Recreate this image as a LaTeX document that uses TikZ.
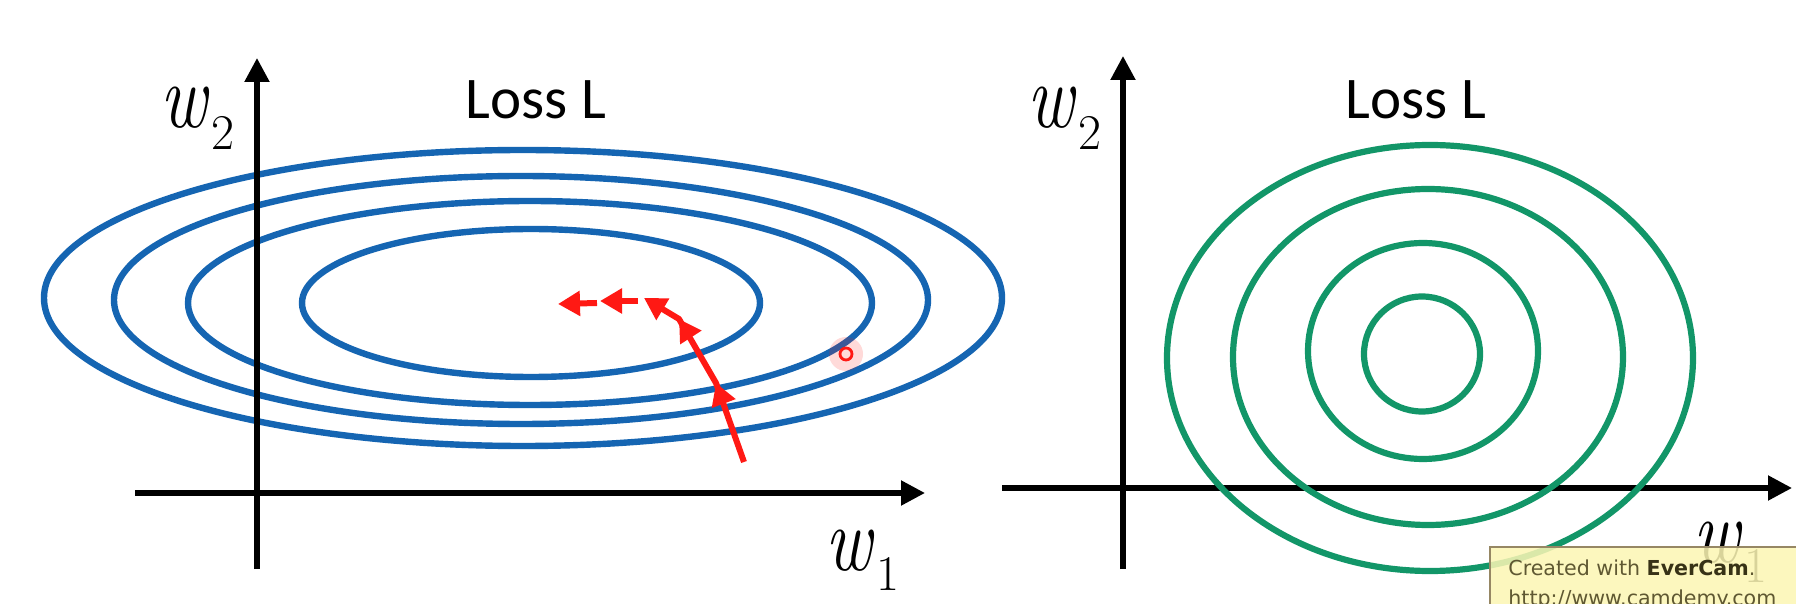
\documentclass[tikz,border=0pt]{standalone}
\usepackage{fontspec}
\usepackage{graphicx}
\usetikzlibrary{arrows.meta}
\newfontfamily\lossfont{Carlito}
\newfontfamily\wmfont{DejaVu Sans}
\definecolor{contourblue}{RGB}{21,101,178}
\definecolor{contourgreen}{RGB}{18,150,104}
\definecolor{gdred}{RGB}{255,25,20}
\definecolor{wmfill}{RGB}{252,246,180}
\definecolor{wmborder}{RGB}{150,135,100}
\definecolor{wmtext}{RGB}{95,88,50}
\definecolor{wmbold}{RGB}{55,50,22}
\newcommand{\wlabeltext}[2]{{\fontsize{46}{46}\selectfont\itshape\scalebox{0.78}[1]{w}}\kern2pt\raisebox{-#2}{\fontsize{25}{25}\selectfont #1}}
\begin{document}
\begin{tikzpicture}[x=0.5pt,y=-0.5pt,
  axisline/.style={draw=black, line width=2.6pt, -{Triangle[length=12pt,width=12pt]}},
  bluecontour/.style={draw=contourblue, line width=3.2pt},
  greencontour/.style={draw=contourgreen, line width=3.1pt},
  gdstep/.style={draw=gdred, line width=3pt, line join=round, -{Triangle[length=11pt,width=12pt]}},
  wlab/.style={anchor=base west, inner sep=0pt},
  losslab/.style={anchor=base, inner sep=0pt, font=\lossfont\fontsize{29.5}{31}\selectfont},
  wmtxt/.style={anchor=base west, inner sep=0pt, text=wmtext, font=\wmfont\fontsize{10.3}{12}\selectfont}]
\fill[white] (0,0) rectangle (1796,604);
\useasboundingbox (0,0) rectangle (1796,604);

% ---------- left panel ----------
\draw[bluecontour] (523,298) ellipse [x radius=239.5pt, y radius=74pt];
\draw[bluecontour] (521,300) ellipse [x radius=203.5pt, y radius=62pt];
\draw[bluecontour] (530,303) ellipse [x radius=171pt, y radius=51pt];
\draw[bluecontour] (531,303) ellipse [x radius=114.5pt, y radius=37pt];

\coordinate (L0) at (257,569);
\coordinate (L1) at (257,58);
\coordinate (H0) at (135,493);
\coordinate (H1) at (925,493);
\draw[axisline] (L0) -- (L1);
\draw[axisline] (H0) -- (H1);

\node[wlab] (lw2) at (160,128) {\wlabeltext{2}{11pt}};
\node[wlab] (lw1) at (825,570) {\wlabeltext{1}{10pt}};
\node[losslab] (lloss) at (536,119) {Loss L};

% gradient descent path
\coordinate (T) at (744,462);
\coordinate (A1) at (716,383);
\coordinate (A1b) at (722,399);
\coordinate (A2) at (679,319);
\coordinate (A2b) at (688,333);
\coordinate (A3) at (644,298);
\coordinate (B0) at (638,301);
\coordinate (A4) at (600,301);
\coordinate (B1) at (597,303);
\coordinate (A5) at (558,304);
\draw[gdstep] (T) -- (A1) -- (A2) -- (A3);
\draw[gdstep] (A1b) -- (A1);
\draw[gdstep] (A2b) -- (A2);
\draw[gdstep] (B0) -- (A4);
\draw[gdstep] (B1) -- (A5);

% pointer marker
\coordinate (P) at (846,354);
\fill[gdred, opacity=0.16] (P) circle (8.5pt);
\draw[gdred, line width=1.4pt] (P) circle (3pt);

% ---------- right panel ----------
\coordinate (RL0) at (1123,569);
\coordinate (RL1) at (1123,56);
\coordinate (RH0) at (1002,488);
\coordinate (RH1) at (1792,488);
\draw[axisline] (RL0) -- (RL1);
\draw[axisline] (RH0) -- (RH1);

\draw[greencontour] (1430,358) ellipse [x radius=131.5pt, y radius=106.5pt];
\draw[greencontour] (1428,357) ellipse [x radius=97.5pt, y radius=84pt];
\draw[greencontour] (1423,351) ellipse [x radius=57.5pt, y radius=54pt];
\draw[greencontour] (1422,354) ellipse [x radius=29pt, y radius=28.75pt];

\node[wlab] (rw2) at (1027,128) {\wlabeltext{2}{11pt}};
\node[wlab] (rw1) at (1693,562) {\wlabeltext{1}{10pt}};
\node[losslab] (rloss) at (1416,119) {Loss L};

% ---------- watermark ----------
\draw[draw=wmborder, fill=wmfill, line width=0.7pt, fill opacity=0.86] (1490,547) rectangle (1810,615);
\node[wmtxt] (wm1) at (1508,575) {Created with {\bfseries\color{wmbold}EverCam}.};
\node[wmtxt] (wm2) at (1508,605) {http://www.camdemy.com};
\end{tikzpicture}
\end{document}
